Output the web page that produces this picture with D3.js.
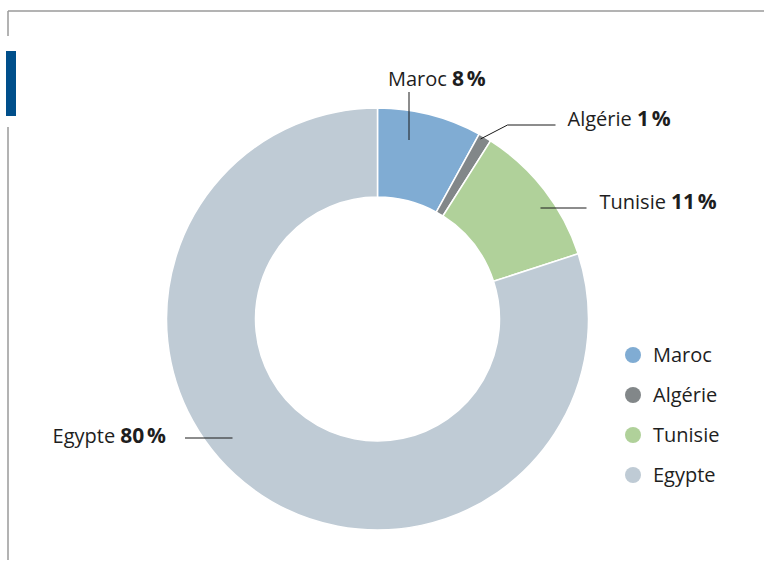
<!DOCTYPE html>
<html>
<head>
<meta charset="utf-8">
<script src="https://cdn.jsdelivr.net/npm/d3@7"></script>
<style>
  html, body { margin: 0; padding: 0; background: #fff; }
  svg { display: block; font-family: "Open Sans", "Noto Sans", sans-serif; }
</style>
</head>
<body>
<svg id="chart" width="764" height="562"></svg>
<script>
// Parts des pays (%)
const countries = ["Maroc", "Algérie", "Tunisie", "Egypte"];
const shares = [8, 1, 11, 80];
const colors = ["#80acd3", "#828789", "#b0d19a", "#bfcbd5"];

const svg = d3.select("#chart");
const W = 764, H = 562;

// Frame: top rule, left rule split by the blue accent bar
svg.append("line").attr("x1", 8).attr("x2", W).attr("y1", 11).attr("y2", 11)
  .attr("stroke", "#9a9a9a").attr("stroke-width", 1.5);
svg.append("line").attr("x1", 8).attr("x2", 8).attr("y1", 11).attr("y2", 36)
  .attr("stroke", "#9a9a9a").attr("stroke-width", 1.5);
svg.append("line").attr("x1", 8).attr("x2", 8).attr("y1", 127).attr("y2", 560)
  .attr("stroke", "#9a9a9a").attr("stroke-width", 1.5);
svg.append("rect").attr("x", 6).attr("y", 51).attr("width", 10).attr("height", 65)
  .attr("fill", "#004f8b");

// Donut
const cx = 377.5, cy = 319;
const outerR = 211, innerR = 122;
const data = countries.map((c, i) => ({ name: c, value: shares[i], color: colors[i] }));

const pie = d3.pie().value(d => d.value).sort(null);
const arc = d3.arc().innerRadius(innerR).outerRadius(outerR);
const arcs = pie(data);

const g = svg.append("g").attr("transform", `translate(${cx},${cy})`);
g.selectAll("path").data(arcs).join("path")
  .attr("d", arc)
  .attr("fill", d => d.data.color)
  .attr("stroke", "#fff")
  .attr("stroke-width", 1.5);

// Callout labels: leader line points and text anchors, relative to the donut centre
const callouts = {
  "Maroc":   { line: [[31.5, -179], [31.5, -227]], text: [10.5, -233], anchor: "start" },
  "Algérie": { line: [[103, -180], [130, -194], [178, -194]], text: [190, -193], anchor: "start" },
  "Tunisie": { line: [[163, -111], [209, -111]], text: [222, -110], anchor: "start" },
  "Egypte":  { line: [[-145, 119], [-192.5, 119]], text: [-211.5, 124], anchor: "end" }
};

const lbl = svg.append("g").attr("transform", `translate(${cx},${cy})`);
arcs.forEach(a => {
  const c = callouts[a.data.name];
  lbl.append("path")
    .attr("d", d3.line()(c.line))
    .attr("fill", "none").attr("stroke", "#1a1a1a").attr("stroke-width", 1);
  const t = lbl.append("text")
    .attr("x", c.text[0]).attr("y", c.text[1])
    .attr("text-anchor", c.anchor)
    .attr("font-size", 20).attr("fill", "#1e1e1e");
  t.append("tspan").attr("font-weight", 400).text(a.data.name + " ");
  t.append("tspan").attr("font-weight", 700).attr("font-size", 21).text(a.data.value + "\u202F%");
});

// Legend
const legend = svg.append("g").attr("transform", "translate(633,355)");
const li = legend.selectAll("g").data(data).join("g")
  .attr("transform", (d, i) => `translate(0,${i * 40})`);
li.append("circle").attr("r", 8).attr("fill", d => d.color);
li.append("text").attr("x", 20).attr("y", 7)
  .attr("font-size", 20).attr("font-weight", 400).attr("fill", "#1e1e1e")
  .text(d => d.name);
</script>
</body>
</html>
